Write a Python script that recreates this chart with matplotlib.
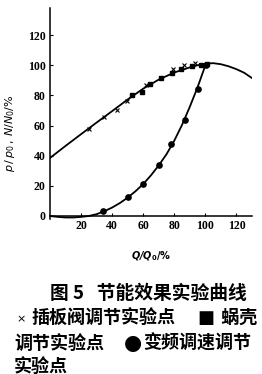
import numpy as np
import matplotlib.pyplot as plt

plt.rcParams['font.family'] = ['Liberation Serif', 'Noto Sans CJK SC', 'DejaVu Sans']

# fitted curves
q_curve = [0, 10, 20, 30, 40, 50, 60, 70, 80, 90, 95, 100, 105, 110, 115, 120, 125, 130.7]
p_curve = [38.5, 46.5, 54.3, 62.0, 69.6, 77.3, 84.5, 90.5, 95.2, 98.6, 100.0, 101.0, 101.4, 100.7, 99.3, 97.4, 95.0, 91.0]

q_vfd = [0, 5, 10, 15, 20, 25, 30, 35, 40, 45, 50, 55, 60, 65, 70, 75, 80, 85, 90, 95, 100]
n_vfd = [0, -0.6, -1.0, -1.0, -0.6, 0, 1.2, 3.2, 5.6, 8.6, 12.2, 16.4, 21.2, 27.0, 33.6, 41.0, 50.0, 60.5, 72.5, 85.5, 100]

# experiment points
q_valve = [25.4, 35, 43, 49.4, 61.5, 79, 86, 93.5]
p_valve = [58, 65.5, 70, 76, 87, 97.7, 100, 101.6]

q_volute = [52.9, 59.3, 64.5, 71.6, 78.7, 84.5, 91.4, 97, 101]
p_volute = [80, 82, 87.5, 91.3, 95, 97.3, 99.2, 99.9, 101]

q_freq = [34.4, 50, 60, 70, 78, 86.6, 95, 100.5]
n_freq = [3.6, 12.7, 21.4, 34, 47.5, 64, 84, 100.5]

fig = plt.figure(figsize=(2.62, 3.74), dpi=100)
ax = fig.add_axes([50 / 262, 1 - 219 / 374, 202 / 262, 211 / 374])

ax.plot(q_curve, p_curve, color='black', lw=1.3)
ax.plot(q_vfd, n_vfd, color='black', lw=1.3)
ax.plot(q_valve, p_valve, 'x', color='black', ms=3.2, mew=0.8)
ax.plot(q_volute, p_volute, 's', color='black', ms=3.4)
ax.plot(q_freq, n_freq, 'o', color='black', ms=3.8)

ax.set_xlim(0, 130)
ax.set_ylim(-2, 138)
ax.spines['top'].set_visible(False)
ax.spines['right'].set_visible(False)
ax.spines['bottom'].set_position(('data', 0))
for s in ['left', 'bottom']:
    ax.spines[s].set_linewidth(1.1)
ax.set_xticks([20, 40, 60, 80, 100, 120])
ax.set_yticks([0, 20, 40, 60, 80, 100, 120])
ax.tick_params(direction='in', length=2.5, width=0.8, labelsize=8.5, pad=3)
for lab in ax.get_xticklabels() + ax.get_yticklabels():
    lab.set_fontweight('bold')

fig.text(151 / 262, 1 - 256 / 374, r'$\mathbfit{Q/Q}_\mathbf{0}\mathbf{/\%}$', ha='center', va='center',
         fontsize=7)
fig.text(10 / 262, 1 - 133 / 374, r'$\it{p\,/\,p}_0\,,\,\it{N/N}_0/\%$', ha='center', va='center',
         rotation=90, fontsize=8)

cjk = ['Noto Sans CJK SC']
fig.text(50 / 262, 1 - 293 / 374, '图 5   节能效果实验曲线', ha='left', va='center', fontsize=13.5,
         family=cjk, fontweight='bold')
fig.text(16 / 262, 1 - 319 / 374, '×', ha='left', va='center', fontsize=8, family=['DejaVu Sans'])
fig.text(32 / 262, 1 - 318 / 374, '插板阀调节实验点', ha='left', va='center', fontsize=13,
         family=cjk, fontweight='bold')
fig.text(198 / 262, 1 - 318 / 374, '■ 蜗壳', ha='left', va='center', fontsize=13,
         family=['DejaVu Sans', 'Noto Sans CJK SC'], fontweight='bold')
fig.text(14 / 262, 1 - 343 / 374, '调节实验点', ha='left', va='center', fontsize=13,
         family=cjk, fontweight='bold')
fig.text(124 / 262, 1 - 343 / 374, '●', ha='left', va='center', fontsize=15, family=['DejaVu Sans'])
fig.text(143 / 262, 1 - 343 / 374, '变频调速调节', ha='left', va='center', fontsize=13,
         family=cjk, fontweight='bold')
fig.text(14 / 262, 1 - 366 / 374, '实验点', ha='left', va='center', fontsize=13,
         family=cjk, fontweight='bold')

fig.savefig('out.png', dpi=100)
